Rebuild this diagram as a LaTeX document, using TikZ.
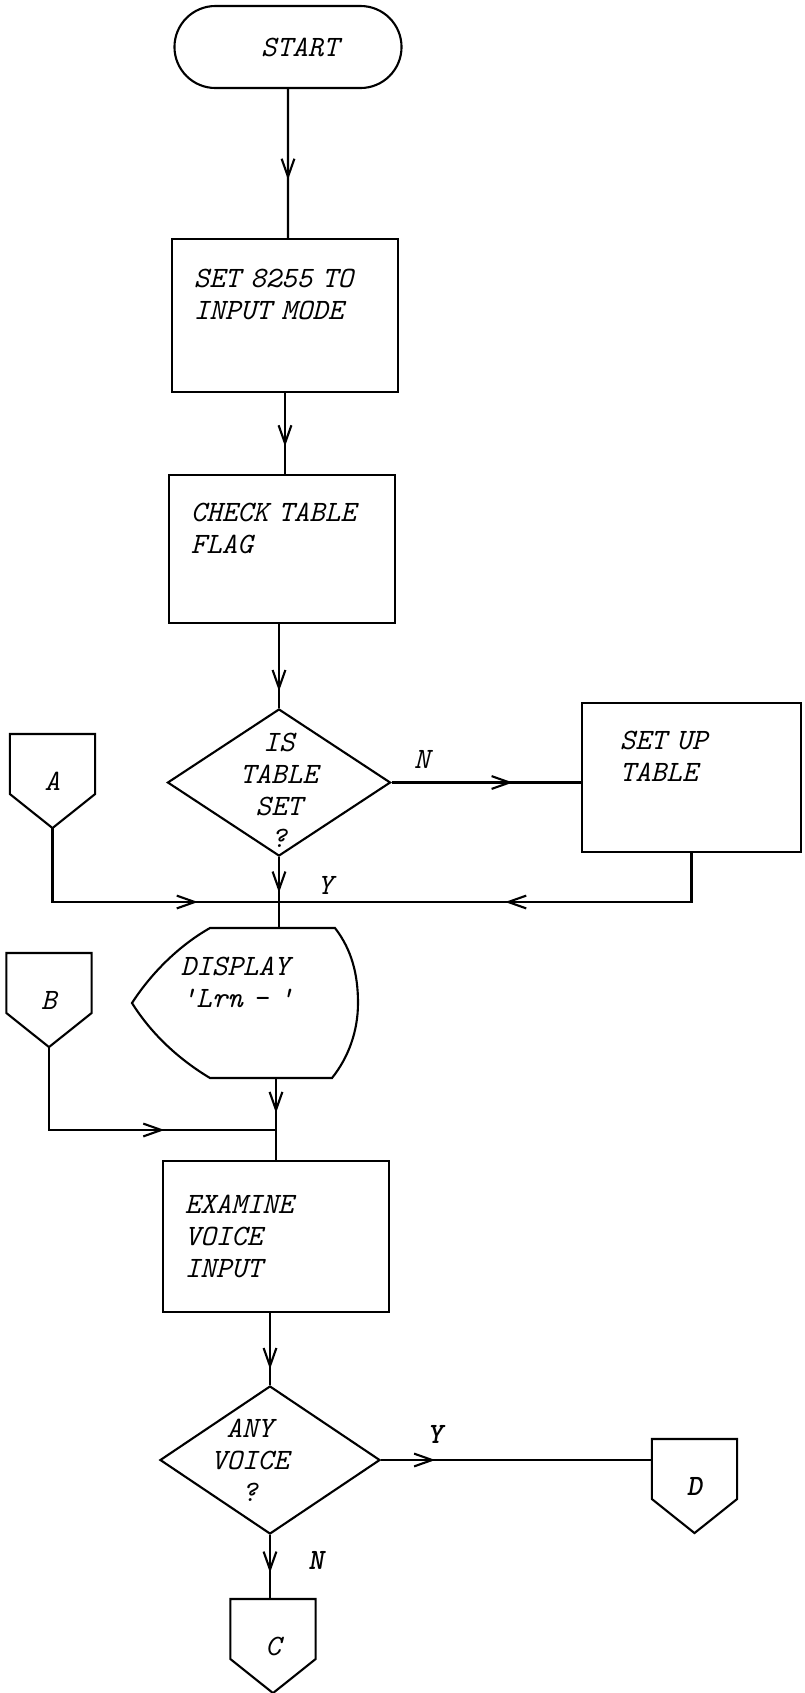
\documentclass[tikz,border=0pt]{standalone}
\usepackage{tikz}
\usetikzlibrary{arrows.meta,shapes.geometric,shapes.misc,decorations.markings,calc}

\begin{document}
\begin{tikzpicture}[x=0.025cm,y=-0.025cm,line width=1.5pt,
txt/.style={font=\ttfamily\itshape\fontsize{21}{22.7}\selectfont},
terminal/.style={txt,draw,rounded rectangle,minimum width=5.675cm,minimum height=2.05cm,inner sep=0pt},
process/.style={txt,draw,rectangle,minimum width=5.65cm,minimum height=3.75cm,text width=4.55cm,inner xsep=0.55cm,align=left},
decision/.style={draw,diamond,minimum width=5.575cm,minimum height=3.675cm,inner sep=0pt},
dtext/.style={txt,align=center},
screen/.style={txt,minimum width=5.65cm,minimum height=3.75cm,text width=3.2cm,align=left,inner sep=0pt},
offpage/.style={txt,minimum width=2.075cm,minimum height=2.3cm,inner sep=0pt},
flowarr/.style={postaction={decorate},decoration={markings,mark=at position #1 with {\arrow{Straight Barb[length=4.5mm,width=3.2mm]}}}},
lab/.style={txt,inner sep=1pt}]
\useasboundingbox (0,0) rectangle (804,1693);
\node[terminal] (start) at (288,47) {\hspace*{0.6cm}START};
\node[process,minimum height=3.825cm] (b1) at (285,315.5) {SET 8255 TO\\INPUT MODE\\\strut};
\node[process,minimum height=3.7cm] (b2) at (282,549) {CHECK TABLE\\FLAG\\\strut};
\node[decision,label={[dtext,yshift=-0.2cm]center:IS\\TABLE\\SET\\?}] (d1) at (279,782.5) {};
\node[process,minimum width=5.475cm,text width=3.575cm,inner xsep=0.95cm,minimum height=3.725cm] (setup) at (691.5,777.5) {SET UP\\TABLE\\\strut};
\node[offpage] (conA) at (52.5,781) {A};
\node[screen] (disp) at (245,1003) {DISPLAY\\'Lrn - '\\\strut};
\node[offpage] (conB) at (49,1000) {B};
\node[process,minimum height=3.775cm] (ex) at (276,1236.5) {EXAMINE\\VOICE\\INPUT};
\node[decision,minimum width=5.5cm,minimum height=3.7cm,label={[dtext,xshift=-0.5cm]center:ANY\\VOICE\\?}] (d2) at (270,1460) {};
\node[offpage] (conC) at (273,1646) {C};
\node[offpage] (conD) at (694.5,1486) {\bfseries D};
% outlines of the off-page connectors and the display symbol
\foreach \c in {conA,conB,conC,conD}
  \draw (\c.north west) -- (\c.north east) -- ($(\c.south east)+(0,-34)$) -- (\c.south) -- ($(\c.south west)+(0,-34)$) -- cycle;
\draw[shift={(disp.center)}] (-35,-75) -- (90,-75) .. controls (107,-53) and (113,-28) .. (113,0) .. controls (113,29) and (103,55) .. (87,75) -- (-35,75) .. controls (-65,57) and (-93,32) .. (-113,0) .. controls (-93,-31) and (-65,-58) .. (-35,-75) -- cycle;
\coordinate (jA) at (279,902);
\coordinate (jB) at (276,1130);
\draw[flowarr=.61] (start) -- (start |- b1.north);
\draw[flowarr=.66] (b1) -- (b1 |- b2.north);
\draw[flowarr=.8] (b2.south -| d1.north) -- (d1.north);
\draw[flowarr=.64] (d1.east) -- node[lab,pos=.16,above=0.3cm] {N} (d1.east -| setup.west);
\draw[flowarr=.51] (d1.south) -- node[lab,pos=.4,right=0.9cm] {Y} (d1.south |- disp.north);
\draw[flowarr=.51] (setup.south) |- (jA);
\draw[flowarr=.73] (conA.south) |- (jA);
\draw[flowarr=.42] (disp.south -| ex.north) -- (ex.north);
\draw[flowarr=.64] (conB.south) |- (jB);
\draw[flowarr=.78] (ex.south -| d2.north) -- (d2.north);
\draw[flowarr=.2] (d2.east) -- node[lab,pos=.2,above=0.35cm] {\bfseries Y} (d2.east -| conD.west);
\draw[flowarr=.59] (d2.south) -- node[lab,pos=.4,right=0.9cm] {\bfseries N} (d2.south |- conC.north);
\end{tikzpicture}
\end{document}
